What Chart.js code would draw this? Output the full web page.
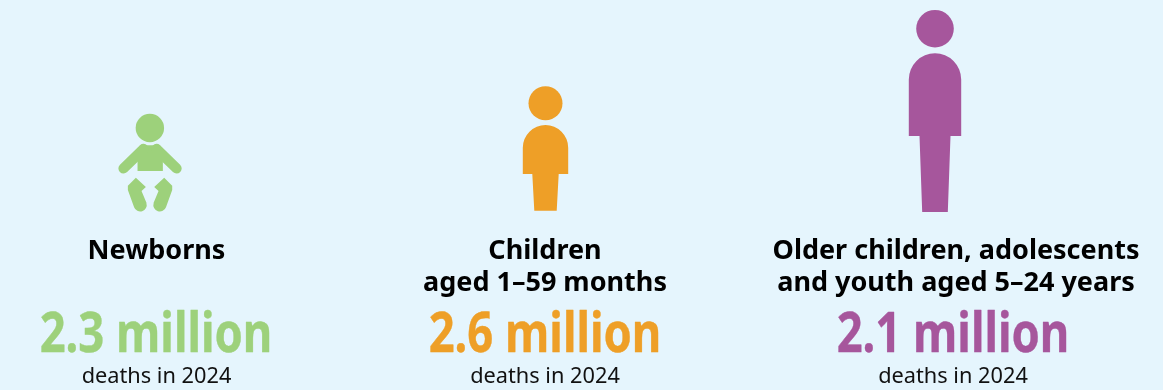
<!DOCTYPE html>
<html>
<head>
<meta charset="utf-8">
<style>
html,body{margin:0;padding:0;background:#e5f5fd;overflow:hidden}
canvas{display:block}
</style>
<script src="https://cdn.jsdelivr.net/npm/chart.js@4/dist/chart.umd.min.js"></script>
</head>
<body>
<canvas id="c" width="1163" height="390"></canvas>
<script>
// ---- data ----
const categories = [
  ["Newborns"],
  ["Children", "aged 1–59 months"],
  ["Older children, adolescents", "and youth aged 5–24 years"]
];
const deathsMillions = [2.3, 2.6, 2.1];
const deathsCaption = ["deaths in 2024", "deaths in 2024", "deaths in 2024"];
const seriesColors = ["#9dd17b", "#ee9f27", "#a6569c"];

// ---- layout & pictogram styles (not data) ----
const TEXT_DX = { label: [6.5, 2.5, 21], value: [6, 2.5, 18], note: [6.5, 2.5, 18] };
const ICON_DX = [0, 3, 0];
const NUMBER_SCALE_X = 0.825;

function circle(ctx, x, y, r) { ctx.beginPath(); ctx.arc(x, y, r, 0, Math.PI * 2); ctx.fill(); }

function drawHuman(ctx, cx, base, g) {
  circle(ctx, cx, base - g.headDy, g.headR);
  const domeCy = base - g.topDy + g.half;
  ctx.beginPath();
  ctx.moveTo(cx - g.half, base - g.hipDy);
  ctx.lineTo(cx - g.half, domeCy);
  ctx.arc(cx, domeCy, g.half, Math.PI, 0);
  ctx.lineTo(cx + g.half, base - g.hipDy);
  ctx.lineTo(cx + g.legTop, base - g.hipDy);
  ctx.lineTo(cx + g.legBot, base - g.footDy);
  ctx.lineTo(cx - g.legBot, base - g.footDy);
  ctx.lineTo(cx - g.legTop, base - g.hipDy);
  ctx.closePath();
  ctx.fill();
}

function drawBaby(ctx, cx, base) {
  const ox = cx - 59.8, oy = base - 112;   // zoomed sketch origin
  const P = (x, y) => [ox + x / 3, oy + y / 3];
  const mirror = 179.5;
  circle(ctx, ...P(179, 84), 14.2);
  // torso
  ctx.beginPath();
  [[150,136],[209,136],[218,150],[218,213],[142,213],[142,150]].forEach((p, i) => {
    const q = P(p[0], p[1]); i ? ctx.lineTo(q[0], q[1]) : ctx.moveTo(q[0], q[1]);
  });
  ctx.closePath(); ctx.fill();
  // arms
  ctx.save();
  ctx.strokeStyle = ctx.fillStyle; ctx.lineWidth = 10.3; ctx.lineCap = "round";
  [[160,147,100,205],[199,147,259,205]].forEach(a => {
    ctx.beginPath(); ctx.moveTo(...P(a[0], a[1])); ctx.lineTo(...P(a[2], a[3])); ctx.stroke();
  });
  ctx.restore();
  // legs
  [1, -1].forEach(side => {
    const X = x => side === 1 ? x : 2 * mirror - x;
    ctx.beginPath();
    const pts = [[137,233],[167,261],[154,273],[169,309]];
    pts.forEach((p, i) => { const q = P(X(p[0]), p[1]); i ? ctx.lineTo(q[0], q[1]) : ctx.moveTo(q[0], q[1]); });
    const c = P(X(150), 315);
    const a0 = Math.atan2(309 - 315, X(169) - X(150));
    const a1 = Math.atan2(322 - 315, X(131) - X(150));
    ctx.arc(c[0], c[1], 6.5, a0, a1, side === -1 ? true : false);
    [[113,270],[113,257]].forEach(p => { const q = P(X(p[0]), p[1]); ctx.lineTo(q[0], q[1]); });
    ctx.closePath(); ctx.fill();
  });
}

const ICONS = [
  (ctx, x, b) => drawBaby(ctx, x, b),
  (ctx, x, b) => drawHuman(ctx, x, b, { headDy: 108.7, headR: 17, half: 22.7, topDy: 87, hipDy: 38, footDy: 1.2, legTop: 13.2, legBot: 11.2 }),
  (ctx, x, b) => drawHuman(ctx, x, b, { headDy: 183.3, headR: 18.8, half: 26.2, topDy: 158.7, hipDy: 76, footDy: 0, legTop: 15.5, legBot: 12.8 })
];

const pictogramPlugin = {
  id: "pictograms",
  afterDatasetsDraw(chart) {
    const ctx = chart.ctx;
    chart.getDatasetMeta(0).data.forEach((bar, i) => {
      ctx.save();
      ctx.fillStyle = seriesColors[i];
      ICONS[i](ctx, bar.x + ICON_DX[i], bar.base);
      ctx.restore();

      ctx.save();
      ctx.textAlign = "center";
      ctx.textBaseline = "alphabetic";
      ctx.fillStyle = "#000";
      ctx.font = 'bold 27px "Noto Sans"';
      categories[i].forEach((line, k) => ctx.fillText(line, bar.x + TEXT_DX.label[i], 259 + k * 32));

      ctx.font = 'bold 55px "Noto Sans"';
      ctx.fillStyle = seriesColors[i];
      ctx.strokeStyle = seriesColors[i];
      ctx.lineWidth = 0.4;
      ctx.lineJoin = "round";
      ctx.save();
      ctx.translate(bar.x + TEXT_DX.value[i], 352);
      ctx.scale(NUMBER_SCALE_X, 1);
      const numberText = deathsMillions[i].toFixed(1) + " million";
      ctx.fillText(numberText, 0, 0);
      ctx.strokeText(numberText, 0, 0);
      ctx.restore();

      ctx.font = '21.75px "Noto Sans"';
      ctx.fillStyle = "#111";
      ctx.fillText(deathsCaption[i], bar.x + TEXT_DX.note[i], 383);
      ctx.restore();
    });
  }
};

new Chart(document.getElementById("c"), {
  type: "bar",
  data: {
    labels: categories.map(c => c.join(" ")),
    datasets: [{
      label: "Deaths in 2024 (millions)",
      data: deathsMillions,
      backgroundColor: "rgba(0,0,0,0)",
      borderWidth: 0,
      barThickness: 50
    }]
  },
  options: {
    responsive: false,
    animation: false,
    events: [],
    layout: { padding: { left: 150, right: 228, top: 10, bottom: 178 } },
    plugins: { legend: { display: false }, tooltip: { enabled: false }, title: { display: false } },
    scales: {
      x: { display: false, offset: false },
      y: { display: false, min: 0, max: 3 }
    }
  },
  plugins: [pictogramPlugin]
});
</script>
</body>
</html>
